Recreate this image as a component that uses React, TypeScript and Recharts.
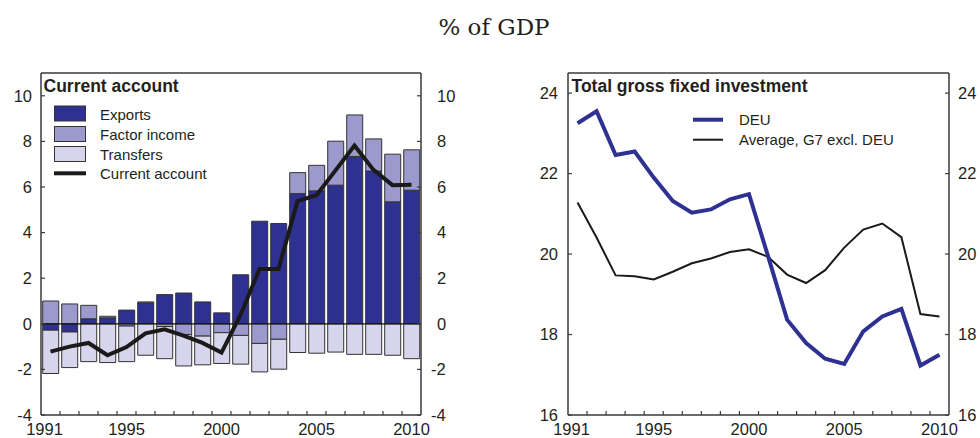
import { Bar, ComposedChart, Line, ReferenceLine, XAxis, YAxis } from "recharts";

const YEARS = [
  1991, 1992, 1993, 1994, 1995, 1996, 1997, 1998, 1999, 2000,
  2001, 2002, 2003, 2004, 2005, 2006, 2007, 2008, 2009, 2010,
];
const LABEL_YEARS = [1991, 1995, 2000, 2005, 2010];

// Current account decomposition, % of GDP
const EXPORTS = [
  -0.28, -0.36, 0.22, 0.26, 0.6, 0.92, 1.28, 1.35, 0.96, 0.48,
  2.15, 4.5, 4.4, 5.71, 5.83, 6.08, 7.34, 6.7, 5.35, 5.86,
];
const FACTOR_INCOME = [
  1.0, 0.87, 0.59, 0.07, -0.1, 0.04, -0.12, -0.47, -0.54, -0.39,
  -0.51, -0.86, -0.68, 0.92, 1.12, 1.93, 1.82, 1.41, 2.09, 1.77,
];
const TRANSFERS = [
  -1.9, -1.56, -1.66, -1.7, -1.56, -1.38, -1.41, -1.38, -1.26, -1.35,
  -1.26, -1.25, -1.31, -1.26, -1.29, -1.24, -1.34, -1.34, -1.38, -1.53,
];
const CURRENT_ACCOUNT = [
  -1.22, -1.0, -0.84, -1.38, -1.02, -0.42, -0.24, -0.52, -0.84, -1.26,
  0.39, 2.4, 2.4, 5.38, 5.64, 6.73, 7.82, 6.75, 6.08, 6.1,
];
const CA_TICKS = [-4, -2, 0, 2, 4, 6, 8, 10];

// Total gross fixed investment, % of GDP
const DEU = [
  23.25, 23.55, 22.46, 22.55, 21.9, 21.32, 21.03, 21.11, 21.36, 21.49,
  19.95, 18.37, 17.79, 17.4, 17.27, 18.08, 18.45, 18.64, 17.23, 17.5,
];
const G7_EXCL_DEU = [
  21.28, 20.41, 19.47, 19.45, 19.37, 19.56, 19.77, 19.89, 20.05, 20.12,
  19.93, 19.49, 19.28, 19.6, 20.16, 20.61, 20.76, 20.42, 18.51, 18.45,
];
const INV_TICKS = [16, 18, 20, 22, 24];

const caData = YEARS.map((year, i) => ({
  year,
  exports: EXPORTS[i],
  factor: FACTOR_INCOME[i],
  transfers: TRANSFERS[i],
  current: CURRENT_ACCOUNT[i],
}));

const invData = YEARS.map((year, i) => ({
  year,
  deu: DEU[i],
  g7: G7_EXCL_DEU[i],
}));

const NAVY = "#2E3192";
const LAVENDER = "#9C99CC";
const PALE = "#D6D5EB";
const FRAME = "#3a3a3a";
const TEXT = "#231f20";
const SANS = "'Liberation Sans', Arial, sans-serif";
const TICK_FONT = 16.5;

const makeYTick =
  (side: "left" | "right", gap: number) =>
  ({ x, y, payload }: any) => {
    const v = payload.value;
    const dir = side === "left" ? 1 : -1;
    const tx = side === "left" ? x - gap : x + gap - (v < 0 ? 6 : 0);
    return (
      <g>
        <line x1={x} x2={x + dir * 4} y1={y} y2={y} stroke={FRAME} strokeWidth={1.2} />
        <text
          x={tx}
          y={y}
          dy="0.35em"
          textAnchor={side === "left" ? "end" : "start"}
          fontFamily={SANS}
          fontSize={TICK_FONT}
          fill={TEXT}
        >
          {v}
        </text>
      </g>
    );
  };

const YearTick = ({ x, y, payload, index }: any) => {
  const half = payload.offset || 9.5;
  const showLabel = LABEL_YEARS.includes(payload.value);
  return (
    <g>
      {index < YEARS.length - 1 && (
        <line x1={x + half} x2={x + half} y1={y} y2={y - 4} stroke={FRAME} strokeWidth={1.2} />
      )}
      {showLabel && (
        <text
          x={index === 0 ? x - 6 : x}
          y={y + 20}
          textAnchor="middle"
          fontFamily={SANS}
          fontSize={TICK_FONT}
          fill={TEXT}
        >
          {payload.value}
        </text>
      )}
    </g>
  );
};

const axisLine = { stroke: FRAME, strokeWidth: 1.5 };

const CurrentAccountChart = () => (
  <ComposedChart
    width={470}
    height={438}
    data={caData}
    stackOffset="sign"
    barCategoryGap="9%"
    margin={{ top: 73, right: 0, bottom: 0, left: 0 }}
  >
    <XAxis
      dataKey="year"
      height={23}
      interval={0}
      tickLine={false}
      tickSize={0}
      tickMargin={0}
      axisLine={axisLine}
      tick={YearTick}
    />
    <YAxis
      yAxisId="left"
      width={41}
      domain={[-4, 11]}
      allowDataOverflow
      ticks={CA_TICKS}
      tickLine={false}
      tickSize={0}
      tickMargin={0}
      axisLine={axisLine}
      tick={makeYTick("left", 9)}
    />
    <YAxis
      yAxisId="right"
      orientation="right"
      width={49}
      domain={[-4, 11]}
      allowDataOverflow
      ticks={CA_TICKS}
      tickLine={false}
      tickSize={0}
      tickMargin={0}
      axisLine={axisLine}
      tick={makeYTick("right", 16)}
    />
    <ReferenceLine yAxisId="right" y={11} stroke={FRAME} strokeWidth={1.5} />
    <Bar yAxisId="left" dataKey="exports" stackId="ca" fill={NAVY} stroke="#333" strokeWidth={1} isAnimationActive={false} />
    <Bar yAxisId="left" dataKey="factor" stackId="ca" fill={LAVENDER} stroke="#333" strokeWidth={1} isAnimationActive={false} />
    <Bar yAxisId="left" dataKey="transfers" stackId="ca" fill={PALE} stroke="#333" strokeWidth={1} isAnimationActive={false} />
    <ReferenceLine yAxisId="left" y={0} stroke="#111" strokeWidth={1.2} />
    <Line
      yAxisId="left"
      dataKey="current"
      stroke="#1a1a1a"
      strokeWidth={4}
      dot={false}
      isAnimationActive={false}
    />
  </ComposedChart>
);

const InvestmentChart = () => (
  <ComposedChart
    width={490}
    height={438}
    data={invData}
    margin={{ top: 73, right: 0, bottom: 0, left: 0 }}
  >
    <XAxis
      dataKey="year"
      scale="band"
      height={23}
      interval={0}
      tickLine={false}
      tickSize={0}
      tickMargin={0}
      axisLine={axisLine}
      tick={YearTick}
    />
    <YAxis
      yAxisId="left"
      width={78}
      domain={[16, 24.5]}
      allowDataOverflow
      ticks={INV_TICKS}
      tickLine={false}
      tickSize={0}
      tickMargin={0}
      axisLine={axisLine}
      tick={makeYTick("left", 10)}
    />
    <YAxis
      yAxisId="right"
      orientation="right"
      width={31}
      domain={[16, 24.5]}
      allowDataOverflow
      ticks={INV_TICKS}
      tickLine={false}
      tickSize={0}
      tickMargin={0}
      axisLine={axisLine}
      tick={makeYTick("right", 9)}
    />
    <ReferenceLine yAxisId="right" y={24.5} stroke={FRAME} strokeWidth={1.5} />
    <Line yAxisId="left" dataKey="g7" stroke="#1a1a1a" strokeWidth={2} dot={false} isAnimationActive={false} />
    <Line yAxisId="left" dataKey="deu" stroke={NAVY} strokeWidth={4} dot={false} isAnimationActive={false} />
  </ComposedChart>
);

// Panel titles and legends drawn on top of both charts
const Overlay = () => (
  <svg
    width={980}
    height={438}
    style={{ position: "absolute", left: 0, top: 0, pointerEvents: "none" }}
  >
    <text x={494} y={35} textAnchor="middle" fontFamily="'DejaVu Serif', serif" fontSize={23} fill={TEXT}>
      % of GDP
    </text>

    <g fontFamily={SANS} fill={TEXT}>
      <text x={43.5} y={92} fontSize={17.5} fontWeight="bold">Current account</text>
      <rect x={54.5} y={106} width={31} height={15} fill={NAVY} stroke="#333" />
      <rect x={54.5} y={126.5} width={31} height={15} fill={LAVENDER} stroke="#333" />
      <rect x={54.5} y={146.5} width={31} height={15} fill={PALE} stroke="#333" />
      <line x1={54} x2={86} y1={173.3} y2={173.3} stroke="#1a1a1a" strokeWidth={4} />
      <text x={100} y={120} fontSize={15}>Exports</text>
      <text x={100} y={140} fontSize={15}>Factor income</text>
      <text x={100} y={160} fontSize={15}>Transfers</text>
      <text x={100} y={178.5} fontSize={15}>Current account</text>

      <text x={571.5} y={92} fontSize={17.5} fontWeight="bold">Total gross fixed investment</text>
      <line x1={693} x2={723} y1={119.7} y2={119.7} stroke={NAVY} strokeWidth={4} />
      <line x1={693} x2={723} y1={139.7} y2={139.7} stroke="#1a1a1a" strokeWidth={2} />
      <text x={739} y={125.3} fontSize={15}>DEU</text>
      <text x={739} y={145.3} fontSize={15}>Average, G7 excl. DEU</text>
    </g>
  </svg>
);

export default function App() {
  return (
    <div style={{ position: "absolute", left: 0, top: 0, width: 980, height: 438, background: "#fff" }}>
      <div style={{ position: "absolute", left: 0, top: 0 }}>
        <CurrentAccountChart />
      </div>
      <div style={{ position: "absolute", left: 490, top: 0 }}>
        <InvestmentChart />
      </div>
      <Overlay />
    </div>
  );
}
